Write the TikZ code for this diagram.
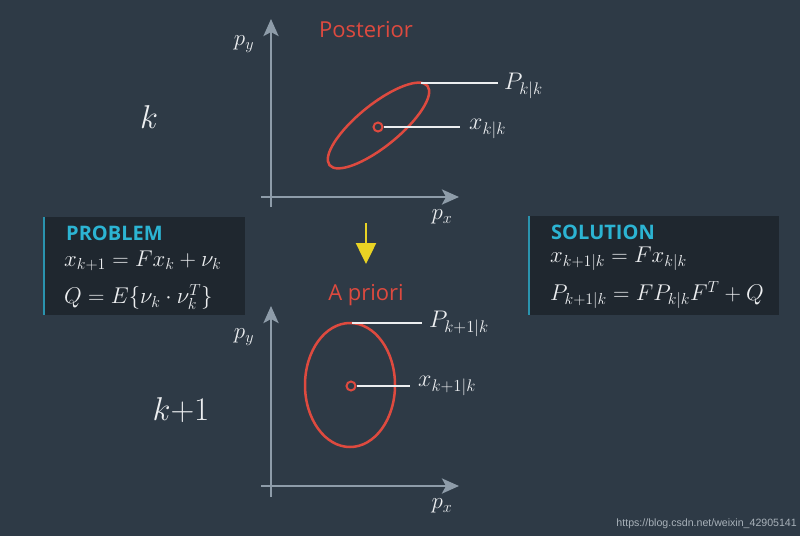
\RequirePackage{fix-cm}
\documentclass[tikz,border=0pt]{standalone}
\usepackage{fontspec}
\setsansfont{Open Sans}
\usetikzlibrary{arrows.meta}
\definecolor{bg}{HTML}{2E3A46}
\definecolor{boxbg}{HTML}{1F272F}
\definecolor{axisc}{HTML}{8E9CA9}
\definecolor{ellc}{HTML}{DE4A3F}
\definecolor{cyanc}{HTML}{2CB4D3}
\definecolor{barc}{HTML}{2A93AE}
\definecolor{yel}{HTML}{E9D324}
\definecolor{labc}{HTML}{ECEEF0}
\definecolor{wmc}{HTML}{A9B2BA}
\begin{document}
\begin{tikzpicture}[x=1pt,y=-1pt,
  axisline/.style={draw=axisc,line width=2.8pt,-{Stealth[length=17pt,width=15pt,inset=4pt]}},
  ell/.style={draw=ellc,line width=2.5pt},
  dotc/.style={circle,draw=ellc,line width=2pt,fill=bg,minimum size=9pt,inner sep=0pt},
  lead/.style={draw=labc,line width=2.5pt},
  mlab/.style={text=labc,font=\fontsize{24}{27}\selectfont,inner sep=0pt},
  axlab/.style={text=labc,font=\fontsize{23}{27}\selectfont,inner sep=0pt},
  steplab/.style={text=labc,font=\fontsize{33}{36}\selectfont,inner sep=0pt},
  ttl/.style={text=ellc,font=\sffamily\fontsize{22}{26}\selectfont,inner sep=0pt},
  boxhead/.style={text=cyanc,font=\sffamily\bfseries\fontsize{20}{24}\selectfont,inner sep=0pt,anchor=west},
  boxeq/.style={text=labc,font=\fontsize{22.8}{26}\selectfont,inner sep=0pt,anchor=west},
  panel/.style={fill=boxbg}
]
\fill[bg] (0,0) rectangle (800,536);
\useasboundingbox (0,0) rectangle (800,536);

% ---------- top plot ----------
\coordinate (ty0) at (271,207);
\coordinate (ty1) at (271,19);
\coordinate (tx0) at (261,197);
\coordinate (tx1) at (459,197);
\draw[axisline] (ty0) -- (ty1);
\draw[axisline] (tx0) -- (tx1);
\node[axlab] (tpy) at (244,44) {$p_y$};
\node[axlab] (tpx) at (442,217) {$p_x$};
\node[ttl] (post) at (366,30) {Posterior};
\draw[ell,rotate around={39:(378.5,125.5)}] (378.5,125.5) ellipse [x radius=63pt,y radius=21pt];
\node[dotc] (tdot) at (378,127) {};
\coordinate (tP0) at (421,83);
\coordinate (tP1) at (498,83);
\draw[lead] (tP0) -- (tP1);
\node[mlab,anchor=west] (tPl) at (504,86) {$P_{k|k}$};
\coordinate (tx2) at (460,127);
\draw[lead] (tdot.east) -- (tx2);
\node[mlab,anchor=west] (txl) at (469,129) {$x_{k|k}$};
\node[steplab] (lk) at (149,117) {$k$};

% ---------- yellow arrow ----------
\coordinate (ya0) at (366,223);
\coordinate (ya1) at (366,264);
\draw[draw=yel,line width=2.5pt,-{Triangle[length=21pt,width=20pt]}] (ya0) -- (ya1);

% ---------- bottom plot ----------
\coordinate (by0) at (271,497);
\coordinate (by1) at (271,306);
\coordinate (bx0) at (261,486);
\coordinate (bx1) at (459,486);
\draw[axisline] (by0) -- (by1);
\draw[axisline] (bx0) -- (bx1);
\node[axlab] (bpy) at (244,337) {$p_y$};
\node[axlab] (bpx) at (442,506) {$p_x$};
\node[ttl] (apr) at (366,295) {A priori};
\draw[ell] (350,385) ellipse [x radius=45pt,y radius=62pt];
\node[dotc] (bdot) at (351,386) {};
\coordinate (bP0) at (352,323);
\coordinate (bP1) at (422,323);
\draw[lead] (bP0) -- (bP1);
\node[mlab,anchor=west] (bPl) at (429,324) {$P_{k+1|k}$};
\coordinate (bx2) at (410,386);
\draw[lead] (bdot.east) -- (bx2);
\node[mlab,anchor=west] (bxl) at (418,386) {$x_{k+1|k}$};
\node[steplab] (lk1) at (181,410) {$k{+}1$};

% ---------- problem box ----------
\fill[panel] (43,217) rectangle (245,315);
\draw[barc,line width=2pt] (44,217) -- (44,315);
\node[boxhead] (ph) at (66,233) {PROBLEM};
\node[boxeq] (pe1) at (64,261) {$x_{k+1} = F x_k + \nu_k$};
\node[boxeq] (pe2) at (64,297) {$Q = E\{\nu_k\cdot\nu_k^T\}$};

% ---------- solution box ----------
\fill[panel] (528,216) rectangle (779,315);
\draw[barc,line width=2pt] (529,216) -- (529,315);
\node[boxhead] (sh) at (551,232) {SOLUTION};
\node[boxeq] (se1) at (550,259) {$x_{k+1|k} = F x_{k|k}$};
\node[boxeq] (se2) at (550,295) {$P_{k+1|k} = F P_{k|k} F^T + Q$};

% ---------- watermark ----------
\node[text=wmc,font=\fontsize{10.6}{13}\selectfont\fontspec{Liberation Sans},anchor=east,inner sep=0pt] (wm) at (797,524) {https://blog.csdn.net/weixin\_42905141};
\end{tikzpicture}
\end{document}
